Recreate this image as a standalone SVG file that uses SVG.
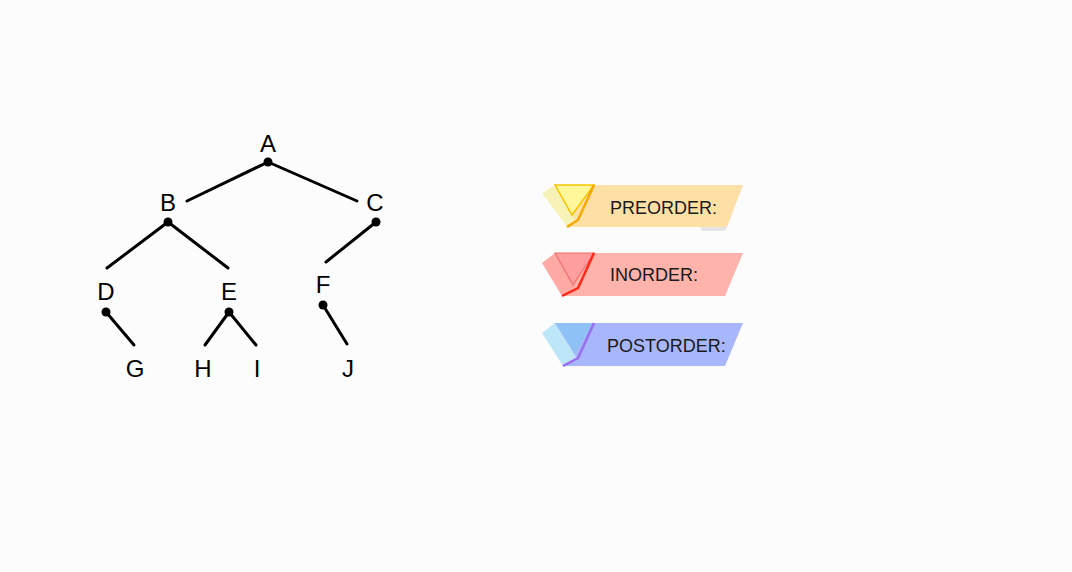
<svg xmlns="http://www.w3.org/2000/svg" width="1072" height="572" viewBox="0 0 1072 572">
<style>
.lbl{font-family:"Liberation Sans",Arial,sans-serif;font-size:24px;fill:#000;text-anchor:middle}
.edge{stroke:#000;stroke-width:3;stroke-linecap:round;fill:none}
.dot{fill:#000}
.btxt{font-family:"Liberation Sans",Arial,sans-serif;font-size:18px;fill:#1a1a1a}
</style>
<rect width="1072" height="572" fill="#fdfcfd"/>
<g id="connectors">
<line class="edge" x1="268" y1="162" x2="187" y2="201"/>
<line class="edge" x1="268" y1="162" x2="357" y2="201"/>
<line class="edge" x1="168" y1="222" x2="107" y2="268"/>
<line class="edge" x1="168" y1="222" x2="228" y2="268"/>
<line class="edge" x1="376" y1="222" x2="326" y2="262"/>
<line class="edge" x1="106" y1="312" x2="134" y2="345"/>
<line class="edge" x1="229" y1="312" x2="205" y2="345"/>
<line class="edge" x1="229" y1="312" x2="256" y2="345"/>
<line class="edge" x1="323" y1="305" x2="347" y2="344"/>
</g>
<g id="node-A"><text class="lbl" x="268" y="152">A</text><circle class="dot" cx="268" cy="162" r="4.5"/></g>
<g id="node-B"><text class="lbl" x="168" y="211">B</text><circle class="dot" cx="168" cy="222" r="4.5"/></g>
<g id="node-C"><text class="lbl" x="375" y="211">C</text><circle class="dot" cx="376" cy="222" r="4.5"/></g>
<g id="node-D"><text class="lbl" x="106" y="300">D</text><circle class="dot" cx="106" cy="312" r="4.5"/></g>
<g id="node-E"><text class="lbl" x="229" y="300">E</text><circle class="dot" cx="229" cy="312" r="4.5"/></g>
<g id="node-F"><text class="lbl" x="323" y="293">F</text><circle class="dot" cx="323" cy="305" r="4.5"/></g>
<g id="node-G"><text class="lbl" x="135" y="377">G</text></g>
<g id="node-H"><text class="lbl" x="203" y="377">H</text></g>
<g id="node-I"><text class="lbl" x="257" y="377">I</text></g>
<g id="node-J"><text class="lbl" x="348" y="377">J</text></g>

<g id="preorder">
<polygon points="555,185 743,185 727,227 568,227" fill="#fde0a6"/>
<polygon points="700,227 727,227 725,231 702,231" fill="#dcdcdc" opacity="0.7"/>
<polygon points="542,193 555,185 576,221 568,228" fill="#f7f2b6"/>
<polygon points="555,185 594,185 572,215" fill="#fff79a" stroke="#f8c400" stroke-width="1.5"/>
<polyline points="594,185 578,220 567,227" fill="none" stroke="#f5a800" stroke-width="2.5"/>
<text class="btxt" x="610" y="214">PREORDER:</text>
</g>
<g id="inorder">
<polygon points="555,253 743,253 725,296 562,296" fill="#ffb3ab"/>
<polygon points="542,263 555,253 578,290 562,296" fill="#ffaaa4"/>
<polygon points="555,253 594,253 573,285" fill="#ff9e9e" stroke="#f07070" stroke-width="1.2"/>
<polyline points="594,253 578,288 562,296" fill="none" stroke="#ff2a1a" stroke-width="2.5"/>
<text class="btxt" x="610" y="281">INORDER:</text>
</g>
<g id="postorder">
<polygon points="555,323 743,323 725,366 563,366" fill="#a8b6fb"/>
<polygon points="542,333 555,323 578,360 563,366" fill="#bde6f8"/>
<polygon points="555,323 594,323 575,353" fill="#8ec2f6"/>
<polyline points="594,323 578,358 563,366" fill="none" stroke="#9a6cf0" stroke-width="2.5"/>
<text class="btxt" x="607" y="352">POSTORDER:</text>
</g>
</svg>
